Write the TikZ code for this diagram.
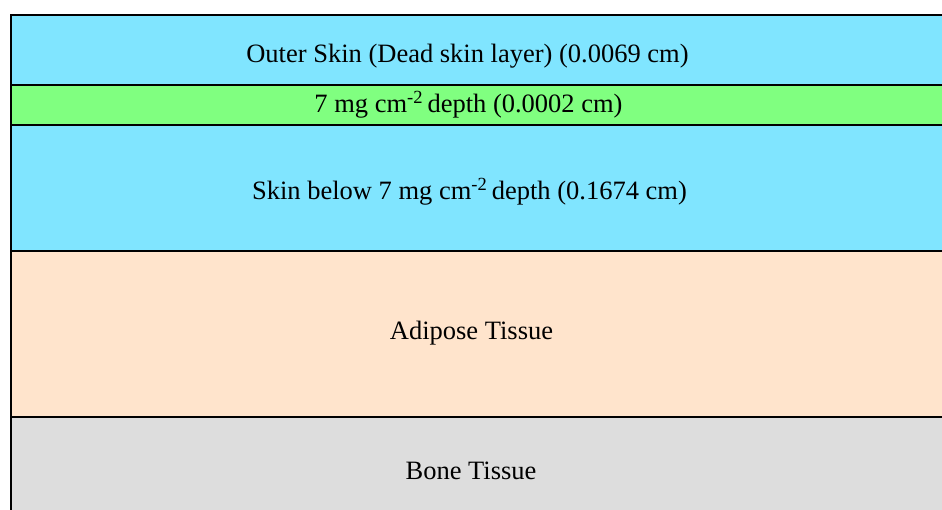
\documentclass[tikz,border=0pt]{standalone}
\usepackage{fontspec}
\setmainfont{Liberation Serif}
\definecolor{skinblue}{RGB}{128,229,255}
\definecolor{layergreen}{RGB}{128,255,128}
\definecolor{adipose}{RGB}{255,228,204}
\definecolor{bone}{RGB}{221,221,221}
\begin{document}
\begin{tikzpicture}[x=1pt,y=-1pt,
  band/.style={draw=black,line width=2pt},
  lbl/.style={font=\fontsize{26.5}{30}\selectfont,inner sep=0pt,anchor=base}]
\useasboundingbox (0,0) rectangle (942,510);
\begin{scope}
\clip (0,0) rectangle (942,510);
\path[band,fill=bone] (11,417) rectangle (960,530);
\path[band,fill=adipose] (11,251) rectangle (960,417);
\path[band,fill=skinblue] (11,125) rectangle (960,251);
\path[band,fill=layergreen] (11,85) rectangle (960,125);
\path[band,fill=skinblue] (11,15) rectangle (960,85);
\end{scope}
\node[lbl] (outer) at (467.5,63) {Outer Skin (Dead skin layer) (0.0069 cm)};
\node[lbl] (seven) at (468.5,113) {7 mg cm\textsuperscript{-2}\,depth (0.0002 cm)};
\node[lbl] (below) at (469.5,200) {Skin below 7 mg cm\textsuperscript{-2}\,depth (0.1674 cm)};
\node[lbl] (adip) at (471.5,340) {Adipose Tissue};
\node[lbl] (bonet) at (471,479) {Bone Tissue};
\end{tikzpicture}
\end{document}
